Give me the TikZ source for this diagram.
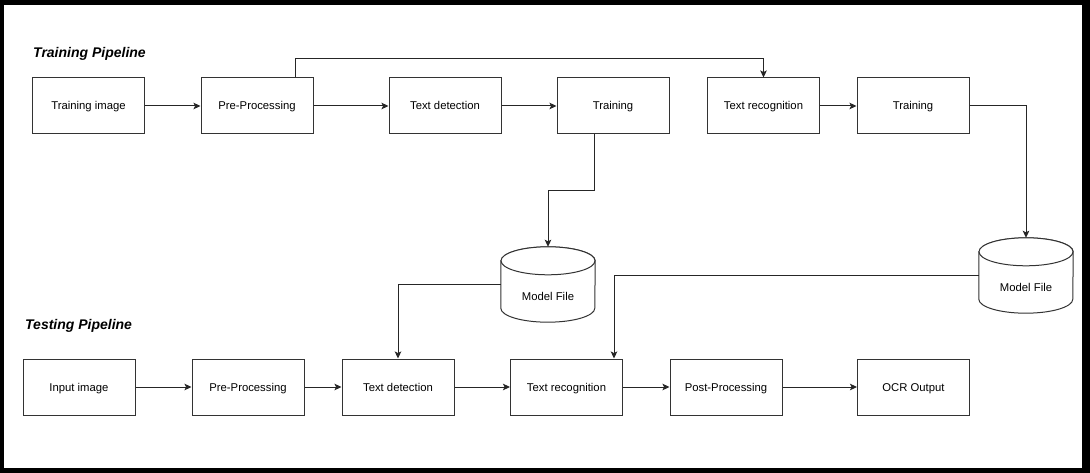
\documentclass[tikz,border=0pt]{standalone}
\usepackage{fontspec}
\setmainfont{Liberation Sans}
\usetikzlibrary{arrows.meta}
\tikzset{
  box/.style={draw=black!80, line width=1pt, fill=white, minimum width=112pt, minimum height=56pt, inner sep=0pt, text height=10pt, text depth=2pt, font=\fontsize{11.3}{13}\selectfont},
  cylbox/.style={draw=none, minimum width=94pt, minimum height=75pt, inner sep=0pt},
  cylline/.style={draw=black!80, line width=1pt, fill=white},
  lbl/.style={inner sep=0pt, text height=10pt, text depth=2pt, font=\fontsize{11.3}{13}\selectfont},
  ttl/.style={inner sep=0pt, anchor=west, font=\fontsize{14}{16}\selectfont\bfseries\itshape},
  arr/.style={draw=black!85, line width=1pt, -{Stealth[length=7pt,width=6.5pt,inset=1.5pt]}},
}
\begin{document}
\begin{tikzpicture}[x=1pt,y=-1pt]
\useasboundingbox (0,0) rectangle (1090,473);
\fill[black] (0,0) rectangle (1090,473);
\fill[white] (4,5) rectangle (1082,468);

% titles
\node[ttl] (t1) at (33,54) {Training Pipeline};
\node[ttl] (t2) at (25,326) {Testing Pipeline};

% training row
\node[box] (ti)   at (88.5,106) {Training image};
\node[box] (pp)   at (257,106) {Pre-Processing};
\node[box] (td)   at (445,106) {Text detection};
\node[box] (tr)   at (613,106) {Training};
\node[box] (trec) at (763.5,106) {Text recognition};
\node[box] (tr2)  at (913,106) {Training};

% testing row
\node[box] (ii)    at (79,387) {Input image};
\node[box] (pp2)   at (248,387) {Pre-Processing};
\node[box] (td2)   at (398,387) {Text detection};
\node[box] (trec2) at (566.5,387) {Text recognition};
\node[box] (post)  at (726,387) {Post-Processing};
\node[box] (ocr)   at (913.5,387) {OCR Output};

% cylinders
\node[cylbox] (mf1) at (548,284.5) {};
\node[cylbox] (mf2) at (1026,275.5) {};
\foreach \c in {mf1,mf2}{
  \path[cylline] ([yshift=-14pt]\c.north west) -- ([yshift=14pt]\c.south west)
     arc[start angle=180,end angle=360,x radius=47pt,y radius=14pt]
     -- ([yshift=-14pt]\c.north east)
     arc[start angle=0,end angle=180,x radius=47pt,y radius=14pt] -- cycle;
  \path[cylline] ([yshift=-14pt]\c.north) ellipse[x radius=47pt,y radius=14pt];
}
\node[lbl] (mf1t) at (548,297) {Model File};
\node[lbl] (mf2t) at (1026,287) {Model File};

% training arrows
\draw[arr] (ti) -- (pp);
\draw[arr] (pp) -- (td);
\draw[arr] (td) -- (tr);
\draw[arr] (trec) -- (tr2);
\draw[arr] ([xshift=38pt]pp.north) -- ++(0,-19) -| (trec.north);
\draw[arr] ([xshift=-19pt]tr.south) -- ++(0,56) -| (mf1.north);
\draw[arr] (tr2.east) -| (mf2.north);

% testing arrows
\draw[arr] (ii) -- (pp2);
\draw[arr] (pp2) -- (td2);
\draw[arr] (td2) -- (trec2);
\draw[arr] (trec2) -- (post);
\draw[arr] (post) -- (ocr);
\draw[arr] (mf1.west) -| (td2.north);
\draw[arr] (mf2.west) -| ([xshift=47.5pt]trec2.north);
\end{tikzpicture}
\end{document}
